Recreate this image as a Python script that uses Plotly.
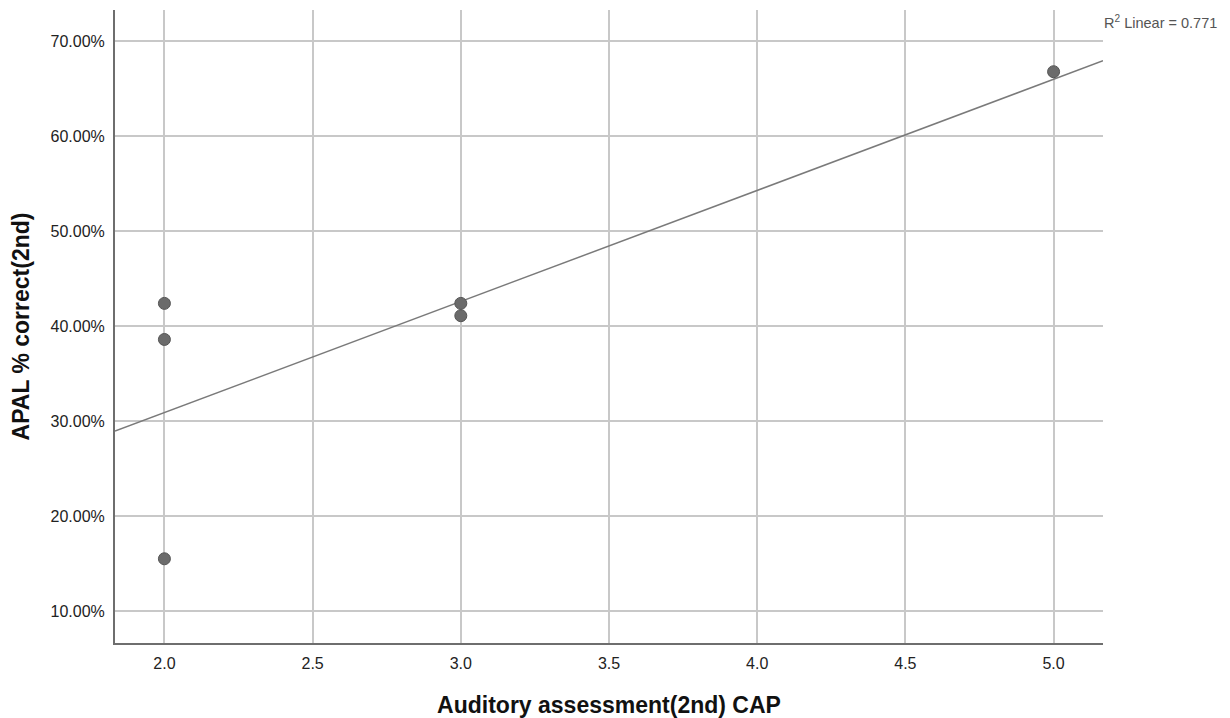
import plotly.graph_objects as go
import numpy as np

# Data
cap_score = [2.0, 2.0, 2.0, 3.0, 3.0, 5.0]
apal_pct = [42.4, 38.6, 15.5, 42.4, 41.1, 66.8]

# Linear fit line (as drawn in the reference)
fit_slope = 11.7
fit_intercept = 7.5
r_squared = 0.771

x_range = [1.8333, 5.1667]
y_range = [6.63, 73.3]
x_ticks = [2.0, 2.5, 3.0, 3.5, 4.0, 4.5, 5.0]
y_ticks = [10, 20, 30, 40, 50, 60, 70]

FONT = "Arial, Liberation Sans, sans-serif"

fit_x = np.array(x_range)
fit_y = fit_intercept + fit_slope * fit_x

fig = go.Figure()
fig.add_trace(go.Scatter(
    x=fit_x, y=fit_y, mode="lines",
    line=dict(color="#7a7a7a", width=1.5),
    hoverinfo="skip", showlegend=False,
))
fig.add_trace(go.Scatter(
    x=cap_score, y=apal_pct, mode="markers",
    marker=dict(size=12, color="#6b6b6b", line=dict(color="#555555", width=1)),
    showlegend=False,
))

fig.update_layout(
    width=1230, height=718,
    margin=dict(l=107, r=135, t=2, b=83),
    paper_bgcolor="white", plot_bgcolor="white",
    font=dict(family=FONT, color="#222222"),
    showlegend=False,
)
fig.update_xaxes(
    range=x_range, tickvals=x_ticks,
    ticktext=[f"{v:.1f}" for v in x_ticks],
    showgrid=True, gridcolor="#c8c8c8", gridwidth=1.5,
    showline=True, linecolor="#6e6e6e", linewidth=2,
    zeroline=False, ticks="", ticklabelstandoff=5,
    tickfont=dict(size=16, family=FONT, color="#222222"),
    title=dict(text="<b>Auditory assessment(2nd) CAP</b>",
               font=dict(size=23, family=FONT, color="#111111"), standoff=26),
)
fig.update_yaxes(
    range=y_range, tickvals=y_ticks,
    ticktext=[f"{v:.2f}%" for v in y_ticks],
    showgrid=True, gridcolor="#c8c8c8", gridwidth=1.5,
    showline=True, linecolor="#6e6e6e", linewidth=2,
    zeroline=False, ticks="", ticklabelstandoff=5,
    tickfont=dict(size=16, family=FONT, color="#222222"),
    title=dict(text="<b>APAL % correct(2nd)</b>",
               font=dict(size=23, family=FONT, color="#111111"), standoff=14),
)
fig.add_annotation(
    x=1.0, y=1.0, xref="paper", yref="paper",
    xanchor="left", yanchor="top", xshift=-1, yshift=-1,
    text=f"R<sup>2</sup> Linear = {r_squared}",
    showarrow=False, font=dict(size=14.5, family=FONT, color="#555555"),
)

fig.write_html("out.html")
